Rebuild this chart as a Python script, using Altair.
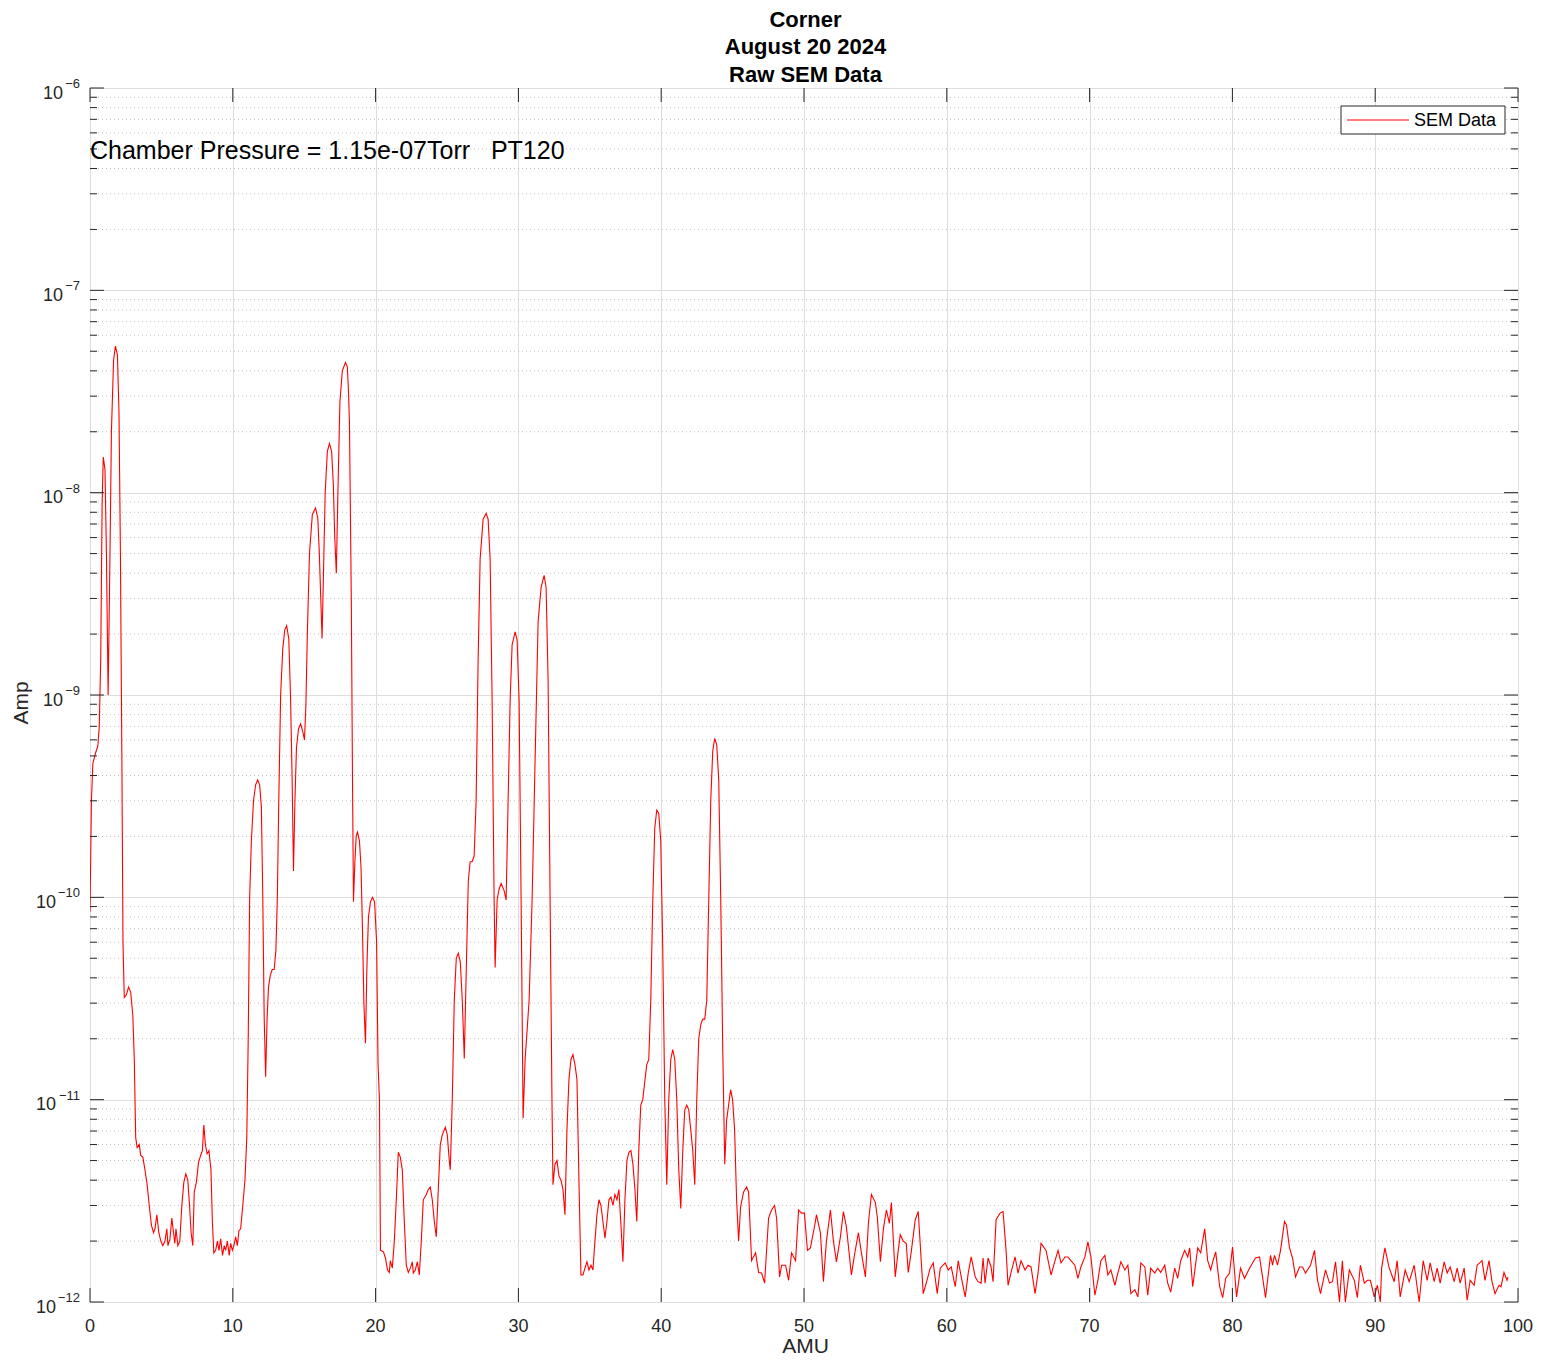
import altair as alt
import pandas as pd

# ---------------- text ----------------
title_lines = ["Corner", "August 20 2024", "Raw SEM Data"]
x_title = "AMU"
y_title = "Amp"
series_name = "SEM Data"
annotation = "Chamber Pressure = 1.15e-07Torr\u00a0\u00a0\u00a0PT120"
annotation_amu = [0.0]
annotation_amp = [5e-7]

x_ticks = [0, 10, 20, 30, 40, 50, 60, 70, 80, 90, 100]
y_exponents = [-12, -11, -10, -9, -8, -7, -6]

# ---------------- data ----------------
amu_a = [0.00, 0.10, 0.20, 0.40, 0.55, 0.65, 0.75, 0.85, 0.93, 1.05, 1.15, 1.27, 1.40, 1.50, 1.65,
         1.78, 1.92, 2.03, 2.13, 2.23, 2.31, 2.40, 2.55, 2.70, 2.85, 3.00, 3.10, 3.20, 3.30, 3.45,
         3.55, 3.70, 3.85, 4.00, 4.15, 4.30, 4.45, 4.55, 4.68, 4.82, 4.96, 5.10, 5.25, 5.38, 5.46,
         5.60, 5.73, 5.85, 5.94, 6.02, 6.15, 6.29, 6.43, 6.57, 6.71, 6.85, 6.97, 7.08, 7.20, 7.30,
         7.45, 7.60, 7.75, 7.87, 7.97, 8.08, 8.20, 8.33, 8.47, 8.57, 8.67, 8.80, 8.92, 9.03, 9.15,
         9.28, 9.40, 9.50, 9.62, 9.75, 9.85, 9.97, 10.08, 10.20, 10.32, 10.43, 10.55, 10.70, 10.85, 10.98]
amp_a = [8.5e-11, 3.0e-10, 4.6e-10, 5.2e-10, 5.6e-10, 7.0e-10, 1.5e-9, 9.0e-9, 1.5e-8, 1.3e-8, 5.0e-9, 1.0e-9, 5.0e-9, 2.0e-8, 4.5e-8,
         5.3e-8, 4.8e-8, 2.5e-8, 5.0e-9, 5.0e-10, 6.0e-11, 3.2e-11, 3.3e-11, 3.6e-11, 3.4e-11, 2.6e-11, 1.6e-11, 6.5e-12, 5.8e-12, 6.0e-12,
         5.3e-12, 5.2e-12, 4.5e-12, 3.8e-12, 3.0e-12, 2.4e-12, 2.2e-12, 2.3e-12, 2.7e-12, 2.2e-12, 2.0e-12, 1.9e-12, 2.0e-12, 2.3e-12, 1.9e-12,
         2.05e-12, 2.6e-12, 2.2e-12, 1.95e-12, 2.3e-12, 1.9e-12, 2.0e-12, 3.0e-12, 3.9e-12, 4.3e-12, 4.0e-12, 3.0e-12, 2.2e-12, 1.9e-12, 3.5e-12,
         3.9e-12, 4.9e-12, 5.3e-12, 5.6e-12, 7.5e-12, 6.0e-12, 5.4e-12, 5.6e-12, 4.5e-12, 2.5e-12, 1.75e-12, 1.8e-12, 2.0e-12, 1.8e-12, 2.05e-12,
         1.7e-12, 1.9e-12, 1.8e-12, 2.0e-12, 1.7e-12, 1.95e-12, 1.8e-12, 1.9e-12, 2.1e-12, 1.9e-12, 2.25e-12, 2.3e-12, 3.0e-12, 4.0e-12, 6.5e-12]

amu_b = [11.08, 11.18, 11.30, 11.45, 11.60, 11.74, 11.88, 12.00, 12.10, 12.20, 12.30, 12.40, 12.50, 12.62, 12.76,
         12.90, 13.02, 13.12, 13.22, 13.35, 13.50, 13.64, 13.77, 13.92, 14.04, 14.15, 14.25, 14.35, 14.46, 14.60,
         14.75, 14.90, 15.02, 15.12, 15.22, 15.37, 15.57, 15.79, 15.95, 16.06, 16.16, 16.25, 16.35, 16.47, 16.62,
         16.77, 16.92, 17.04, 17.14, 17.25, 17.36, 17.50, 17.67, 17.89, 18.02, 18.10, 18.17, 18.30, 18.38, 18.45,
         18.55, 18.64, 18.73, 18.87, 18.98, 19.08, 19.18, 19.29, 19.39, 19.50, 19.64, 19.78, 19.93, 20.07, 20.17,
         20.27]
amp_b = [2.0e-11, 1.0e-10, 1.9e-10, 3.0e-10, 3.6e-10, 3.8e-10, 3.6e-10, 2.8e-10, 1.0e-10, 2.5e-11, 1.3e-11, 2.5e-11, 3.6e-11, 4.1e-11, 4.4e-11,
         4.4e-11, 5.5e-11, 1.0e-10, 3.0e-10, 1.0e-9, 1.7e-9, 2.1e-9, 2.2e-9, 1.9e-9, 1.0e-9, 4.0e-10, 1.35e-10, 3.0e-10, 5.5e-10, 6.8e-10,
         7.2e-10, 6.6e-10, 6.0e-10, 9.0e-10, 2.0e-9, 5.0e-9, 7.8e-9, 8.4e-9, 7.5e-9, 5.0e-9, 3.0e-9, 1.9e-9, 4.0e-9, 1.0e-8, 1.6e-8,
         1.75e-8, 1.6e-8, 1.1e-8, 6.0e-9, 4.0e-9, 1.0e-8, 2.8e-8, 4.0e-8, 4.4e-8, 4.2e-8, 3.2e-8, 2.2e-8, 2.9e-9, 4.0e-10, 9.5e-11,
         1.5e-10, 2.0e-10, 2.1e-10, 1.9e-10, 1.4e-10, 7.0e-11, 3.0e-11, 1.9e-11, 4.5e-11, 8.0e-11, 9.5e-11, 1.0e-10, 9.5e-11, 6.0e-11, 1.5e-11,
         1.0e-11]

amu_c = [20.34, 20.55, 20.69, 20.83, 20.96, 21.03, 21.17, 21.31, 21.45, 21.59, 21.73, 21.87, 22.01, 22.15, 22.29,
         22.43, 22.57, 22.64, 22.78, 22.92, 23.06, 23.20, 23.34, 23.55, 23.69, 23.83, 23.97, 24.11, 24.25, 24.39,
         24.53, 24.67, 24.88, 25.02, 25.16, 25.23, 25.37, 25.51, 25.65, 25.79, 25.93, 26.07, 26.21, 26.35, 26.49,
         26.62, 26.76, 26.90, 27.04, 27.18, 27.32, 27.53, 27.74, 27.88, 28.02, 28.16, 28.30, 28.37, 28.51, 28.65,
         28.79, 29.00, 29.14, 29.28, 29.42, 29.56, 29.77, 29.91, 30.05, 30.19, 30.33, 30.47, 30.61, 30.75, 30.96,
         31.17, 31.38, 31.59, 31.80, 31.94, 32.08, 32.22, 32.35]
amp_c = [1.8e-12, 1.77e-12, 1.65e-12, 1.44e-12, 1.4e-12, 1.6e-12, 1.47e-12, 2.0e-12, 3.2e-12, 5.5e-12, 5.2e-12, 4.5e-12, 2.5e-12, 1.52e-12, 1.4e-12,
         1.47e-12, 1.58e-12, 1.39e-12, 1.44e-12, 1.58e-12, 1.36e-12, 2.0e-12, 3.2e-12, 3.4e-12, 3.6e-12, 3.7e-12, 3.2e-12, 2.5e-12, 2.1e-12, 3.6e-12,
         6.0e-12, 6.7e-12, 7.3e-12, 6.7e-12, 5.0e-12, 4.5e-12, 1.0e-11, 3.1e-11, 5.0e-11, 5.3e-11, 4.8e-11, 3.1e-11, 1.6e-11, 4.4e-11, 1.2e-10,
         1.5e-10, 1.5e-10, 1.6e-10, 3.0e-10, 1.5e-9, 4.7e-9, 7.4e-9, 7.9e-9, 7.4e-9, 4.7e-9, 9.4e-10, 9.7e-11, 4.5e-11, 9.7e-11, 1.1e-10,
         1.17e-10, 1.08e-10, 9.7e-11, 3.0e-10, 9.4e-10, 1.77e-9, 2.05e-9, 1.87e-9, 9.4e-10, 9.7e-11, 8.1e-12, 1.58e-11, 2.2e-11, 3.1e-11, 9.7e-11,
         4.8e-10, 2.3e-9, 3.4e-9, 3.9e-9, 3.4e-9, 1.19e-9, 9.7e-11, 1.0e-11]

amu_d = [32.42, 32.56, 32.70, 32.84, 32.98, 33.12, 33.26, 33.40, 33.54, 33.68, 33.82, 33.96, 34.10, 34.24, 34.38,
         34.52, 34.66, 34.80, 34.94, 35.08, 35.22, 35.36, 35.50, 35.64, 35.78, 35.92, 36.06, 36.20, 36.34, 36.48,
         36.62, 36.76, 36.90, 37.04, 37.18, 37.32, 37.46, 37.60, 37.74, 37.88, 38.02, 38.16, 38.29, 38.43, 38.57,
         38.71, 38.85, 38.99, 39.13, 39.27, 39.41, 39.55, 39.69, 39.83, 39.97, 40.11, 40.25, 40.39, 40.53, 40.67,
         40.81, 40.95, 41.09, 41.23, 41.37, 41.51, 41.65, 41.79, 41.93, 42.07, 42.21, 42.35, 42.49, 42.63, 42.77,
         42.91, 43.05, 43.19, 43.33, 43.47, 43.61, 43.75, 43.89, 44.03, 44.17, 44.31, 44.45, 44.58, 44.72, 44.86,
         45.00, 45.14, 45.28, 45.42]
amp_d = [3.8e-12, 4.8e-12, 5.0e-12, 4.2e-12, 4.0e-12, 3.6e-12, 2.7e-12, 7.1e-12, 1.26e-11, 1.58e-11, 1.67e-11, 1.49e-11, 1.26e-11, 4.0e-12, 1.36e-12,
         1.36e-12, 1.47e-12, 1.58e-12, 1.44e-12, 1.52e-12, 1.44e-12, 2.0e-12, 2.7e-12, 3.2e-12, 3.0e-12, 2.5e-12, 2.07e-12, 2.5e-12, 3.2e-12, 3.3e-12,
         3.0e-12, 3.4e-12, 3.2e-12, 3.6e-12, 2.4e-12, 1.58e-12, 3.2e-12, 5.0e-12, 5.5e-12, 5.6e-12, 4.8e-12, 3.6e-12, 2.5e-12, 5.6e-12, 9.4e-12,
         1.0e-11, 1.23e-11, 1.49e-11, 1.58e-11, 3.1e-11, 9.7e-11, 2.2e-10, 2.7e-10, 2.6e-10, 1.9e-10, 5.5e-11, 1.0e-11, 3.8e-12, 1.0e-11, 1.58e-11,
         1.77e-11, 1.58e-11, 1.0e-11, 4.5e-12, 2.9e-12, 5.6e-12, 8.9e-12, 9.4e-12, 8.9e-12, 7.1e-12, 5.6e-12, 3.8e-12, 1.0e-11, 2.0e-11, 2.35e-11,
         2.5e-11, 2.5e-11, 3.1e-11, 9.7e-11, 3.0e-10, 5.3e-10, 6.1e-10, 5.65e-10, 3.8e-10, 9.7e-11, 1.77e-11, 4.8e-12, 7.9e-12, 9.4e-12, 1.12e-11,
         1.0e-11, 7.1e-12, 3.2e-12, 2.0e-12]

amu_e = [45.56, 45.77, 45.98, 46.12, 46.33, 46.61, 46.82, 47.03, 47.24, 47.52, 47.73, 47.94, 48.08, 48.29, 48.43,
         48.71, 48.92, 49.13, 49.41, 49.62, 49.83, 50.03, 50.24, 50.45, 50.80, 50.87, 51.15, 51.36, 51.57, 51.85,
         52.06, 52.27, 52.55, 52.76, 52.97, 53.32, 53.53, 53.81, 54.02, 54.30, 54.51, 54.72, 55.00, 55.14, 55.35,
         55.56, 55.77, 55.98, 56.12, 56.39, 56.60, 56.74, 56.95, 57.16, 57.30, 57.51, 57.79, 58.00, 58.35, 58.56,
         58.84, 59.05, 59.33, 59.54, 59.89]
amp_e = [2.95e-12, 3.5e-12, 3.7e-12, 3.5e-12, 1.6e-12, 1.75e-12, 1.4e-12, 1.39e-12, 1.24e-12, 2.6e-12, 2.85e-12, 3.0e-12, 2.6e-12, 1.33e-12, 1.52e-12,
         1.52e-12, 1.28e-12, 1.75e-12, 1.6e-12, 2.85e-12, 2.75e-12, 2.75e-12, 1.8e-12, 1.85e-12, 2.5e-12, 2.7e-12, 2.2e-12, 1.26e-12, 2.0e-12, 2.85e-12,
         2.0e-12, 1.58e-12, 2.1e-12, 2.8e-12, 2.35e-12, 1.36e-12, 1.7e-12, 2.2e-12, 1.75e-12, 1.33e-12, 2.45e-12, 3.4e-12, 3.1e-12, 2.6e-12, 1.58e-12,
         2.3e-12, 2.85e-12, 2.45e-12, 3.1e-12, 1.33e-12, 1.8e-12, 2.15e-12, 2.0e-12, 1.95e-12, 1.4e-12, 1.77e-12, 2.55e-12, 2.8e-12, 1.1e-12, 1.24e-12,
         1.47e-12, 1.56e-12, 1.1e-12, 1.47e-12, 1.56e-12]

amu_f = [60.10, 60.31, 60.59, 60.80, 61.01, 61.29, 61.50, 61.71, 61.99, 62.19, 62.40, 62.54, 62.68, 62.89, 63.10,
         63.24, 63.45, 63.73, 63.94, 64.15, 64.29, 64.50, 64.78, 64.99, 65.20, 65.48, 65.69, 65.90, 66.18, 66.39,
         66.60, 66.95, 67.30, 67.58, 67.79, 68.00, 68.27, 68.48, 68.69, 68.97, 69.18, 69.39, 69.67, 69.88, 70.09,
         70.37, 70.58, 70.79, 71.07, 71.28, 71.49, 71.77, 71.98, 72.19, 72.47, 72.68, 72.89, 73.17, 73.38, 73.59,
         73.87, 74.07, 74.28, 74.56, 74.77, 74.98, 75.26, 75.47, 75.68, 75.96, 76.17, 76.38, 76.66, 76.87, 77.01,
         77.22, 77.57, 77.78, 78.06, 78.27, 78.48, 78.62, 78.83, 79.11, 79.32, 79.53, 79.80]
amp_f = [1.44e-12, 1.49e-12, 1.19e-12, 1.6e-12, 1.33e-12, 1.06e-12, 1.39e-12, 1.67e-12, 1.33e-12, 1.26e-12, 1.24e-12, 1.65e-12, 1.24e-12, 1.65e-12, 1.49e-12,
         1.26e-12, 2.55e-12, 2.75e-12, 2.8e-12, 1.8e-12, 1.21e-12, 1.4e-12, 1.67e-12, 1.39e-12, 1.6e-12, 1.44e-12, 1.52e-12, 1.49e-12, 1.1e-12, 1.39e-12,
         1.95e-12, 1.8e-12, 1.36e-12, 1.6e-12, 1.8e-12, 1.56e-12, 1.67e-12, 1.67e-12, 1.6e-12, 1.52e-12, 1.31e-12, 1.49e-12, 1.67e-12, 1.98e-12, 1.67e-12,
         1.08e-12, 1.28e-12, 1.6e-12, 1.7e-12, 1.36e-12, 1.44e-12, 1.21e-12, 1.39e-12, 1.58e-12, 1.44e-12, 1.52e-12, 1.1e-12, 1.15e-12, 1.06e-12, 1.56e-12,
         1.49e-12, 1.08e-12, 1.47e-12, 1.39e-12, 1.47e-12, 1.4e-12, 1.52e-12, 1.24e-12, 1.12e-12, 1.47e-12, 1.31e-12, 1.6e-12, 1.8e-12, 1.67e-12, 1.85e-12,
         1.19e-12, 1.85e-12, 1.75e-12, 2.3e-12, 1.6e-12, 1.44e-12, 1.58e-12, 1.77e-12, 1.19e-12, 1.05e-12, 1.31e-12, 1.39e-12]

amu_g = [80.01, 80.29, 80.57, 80.85, 81.20, 81.41, 81.62, 81.90, 82.11, 82.32, 82.67, 82.81, 82.95, 83.16, 83.37,
         83.65, 83.79, 84.00, 84.21, 84.42, 84.70, 84.91, 85.12, 85.47, 85.75, 85.96, 86.17, 86.52, 86.80, 87.01,
         87.22, 87.50, 87.70, 87.91, 88.19, 88.54, 88.75, 88.96, 89.24, 89.45, 89.66, 89.94, 90.15, 90.36, 90.45,
         90.68, 90.96, 91.33, 91.54, 91.75, 92.10, 92.38, 92.73, 93.08, 93.36, 93.64, 93.85, 94.13, 94.34, 94.55,
         94.83, 95.04, 95.25, 95.53, 95.74, 95.95, 96.23, 96.44, 96.65, 96.93, 97.14, 97.48, 97.69, 97.97, 98.18,
         98.39, 98.67, 98.81, 99.02, 99.23, 99.30]
amp_g = [1.87e-12, 1.06e-12, 1.47e-12, 1.31e-12, 1.47e-12, 1.56e-12, 1.65e-12, 1.67e-12, 1.33e-12, 1.05e-12, 1.7e-12, 1.52e-12, 1.7e-12, 1.52e-12, 1.8e-12,
         2.5e-12, 2.4e-12, 1.85e-12, 1.65e-12, 1.33e-12, 1.49e-12, 1.49e-12, 1.39e-12, 1.52e-12, 1.8e-12, 1.28e-12, 1.1e-12, 1.44e-12, 1.24e-12, 1.26e-12,
         1.58e-12, 1.0e-12, 1.6e-12, 1.0e-12, 1.44e-12, 1.28e-12, 1.05e-12, 1.52e-12, 1.24e-12, 1.28e-12, 1.28e-12, 1.06e-12, 1.21e-12, 1.0e-12, 1.47e-12,
         1.85e-12, 1.49e-12, 1.26e-12, 1.6e-12, 1.06e-12, 1.44e-12, 1.26e-12, 1.52e-12, 1.0e-12, 1.6e-12, 1.28e-12, 1.56e-12, 1.26e-12, 1.47e-12, 1.24e-12,
         1.58e-12, 1.39e-12, 1.49e-12, 1.26e-12, 1.47e-12, 1.24e-12, 1.47e-12, 1.02e-12, 1.28e-12, 1.21e-12, 1.52e-12, 1.6e-12, 1.28e-12, 1.6e-12, 1.26e-12,
         1.1e-12, 1.21e-12, 1.19e-12, 1.4e-12, 1.28e-12, 1.33e-12]

amu = amu_a + amu_b + amu_c + amu_d + amu_e + amu_f + amu_g
amp = amp_a + amp_b + amp_c + amp_d + amp_e + amp_f + amp_g

# ---------------- layout / style ----------------
W, H = 1428, 1214
FONT = "Liberation Sans"
AX = "#262626"

sem_df = pd.DataFrame({"amu": amu, "amp": amp, "series": series_name})
major_df = pd.DataFrame({"amp": [10.0 ** e for e in y_exponents],
                         "base": ["10"] * len(y_exponents),
                         "exp": ["\u2212" + str(-e) for e in y_exponents],
                         "nd": [len(str(-e)) for e in y_exponents]})
minor_vals = [m * 10.0 ** e for e in y_exponents[:-1] for m in range(2, 10)]
minor_df = pd.DataFrame({"amp": minor_vals})
xt_df = pd.DataFrame({"amu": x_ticks, "lab": [str(v) for v in x_ticks]})
ann_df = pd.DataFrame({"amu": annotation_amu, "amp": annotation_amp, "t": [annotation]})

x_scale = alt.Scale(domain=[0, 100], nice=False, zero=False)
y_scale = alt.Scale(type="log", domain=[1e-12, 1e-6], nice=False)
x_axis = alt.Axis(values=x_ticks, grid=True, gridColor="#dedede", gridWidth=1,
                  labels=False, ticks=False, domain=False, title=None)
y_axis = alt.Axis(values=[10.0 ** e for e in y_exponents], grid=True, gridColor="#dedede",
                  gridWidth=1, labels=False, ticks=False, domain=False, title=None)


def X(field="amu"):
    return alt.X(f"{field}:Q", scale=x_scale, axis=x_axis)


def Y(field="amp"):
    return alt.Y(f"{field}:Q", scale=y_scale, axis=y_axis)


minor_grid = alt.Chart(minor_df).mark_rule(color="#c2c2c2", strokeDash=[1, 3], strokeWidth=1).encode(
    y=Y(), x=alt.value(0), x2=alt.value(W))

line = alt.Chart(sem_df).mark_line(color="#ff0000", strokeWidth=1.1, clip=True).encode(
    x=X(), y=Y())

tick_style = dict(color=AX, strokeWidth=1)
xt_bottom = alt.Chart(xt_df).mark_rule(**tick_style).encode(x=X(), y=alt.value(H - 14), y2=alt.value(H))
xt_top = alt.Chart(xt_df).mark_rule(**tick_style).encode(x=X(), y=alt.value(0), y2=alt.value(14))
yt_left = alt.Chart(major_df).mark_rule(**tick_style).encode(y=Y(), x=alt.value(0), x2=alt.value(14))
yt_right = alt.Chart(major_df).mark_rule(**tick_style).encode(y=Y(), x=alt.value(W - 14), x2=alt.value(W))
ym_left = alt.Chart(minor_df).mark_rule(**tick_style).encode(y=Y(), x=alt.value(0), x2=alt.value(7))
ym_right = alt.Chart(minor_df).mark_rule(**tick_style).encode(y=Y(), x=alt.value(W - 7), x2=alt.value(W))

x_labels = alt.Chart(xt_df).mark_text(font=FONT, fontSize=18, color=AX, align="center",
                                      baseline="alphabetic").encode(
    x=X(), y=alt.value(H + 30), text="lab:N")

y_base1 = alt.Chart(major_df).transform_filter("datum.nd == 1").mark_text(
    font=FONT, fontSize=18, color=AX, align="right", baseline="alphabetic", dy=10.5).encode(
    y=Y(), x=alt.value(-27), text="base:N")
y_base2 = alt.Chart(major_df).transform_filter("datum.nd == 2").mark_text(
    font=FONT, fontSize=18, color=AX, align="right", baseline="alphabetic", dy=10.5).encode(
    y=Y(), x=alt.value(-34), text="base:N")
y_exp = alt.Chart(major_df).mark_text(
    font=FONT, fontSize=13, color=AX, align="right", baseline="alphabetic", dy=0).encode(
    y=Y(), x=alt.value(-10), text="exp:N")

x_title_layer = alt.Chart(pd.DataFrame({"t": [x_title]})).mark_text(
    font=FONT, fontSize=21, color=AX, align="center", baseline="alphabetic").encode(
    x=alt.value(715.5), y=alt.value(H + 51), text="t:N")
y_title_layer = alt.Chart(pd.DataFrame({"t": [y_title]})).mark_text(
    font=FONT, fontSize=21, color=AX, align="center", baseline="middle", angle=270).encode(
    x=alt.value(-68), y=alt.value(615), text="t:N")

title_layer = alt.Chart(pd.DataFrame({"t": ["\n".join(title_lines)]})).mark_text(
    font=FONT, fontSize=22, fontWeight="bold", color="black", align="center", baseline="top",
    lineBreak="\n", lineHeight=27.5).encode(
    x=alt.value(715.5), y=alt.value(-78.5), text="t:N")

ann = alt.Chart(ann_df).mark_text(font=FONT, fontSize=25, color="black", align="left",
                                  baseline="middle", dy=2).encode(x=X(), y=Y(), text="t:N")

leg_df = pd.DataFrame({"t": [series_name]})
leg_box = alt.Chart(leg_df).mark_rect(fill="white", stroke=AX, strokeWidth=1).encode(
    x=alt.value(1251), x2=alt.value(1415), y=alt.value(18), y2=alt.value(46))
leg_line = alt.Chart(leg_df).mark_rule(color="#ff0000", strokeWidth=1.1).encode(
    x=alt.value(1257), x2=alt.value(1319), y=alt.value(32))
leg_text = alt.Chart(leg_df).mark_text(font=FONT, fontSize=18, color="black", align="left",
                                       baseline="middle").encode(
    x=alt.value(1324), y=alt.value(32.5), text="t:N")

chart = alt.layer(
    minor_grid, line, xt_bottom, xt_top, yt_left, yt_right, ym_left, ym_right,
    x_labels, y_base1, y_base2, y_exp, x_title_layer, y_title_layer, title_layer, ann,
    leg_box, leg_line, leg_text
).properties(
    width=W, height=H,
    autosize=alt.AutoSizeParams(type="none"),
    padding={"left": 82, "top": 80, "right": 15, "bottom": 56},
).configure_view(stroke=AX, strokeWidth=1).configure(background="white")

chart.save("out.html", embed_options={"renderer": "svg", "actions": False})
